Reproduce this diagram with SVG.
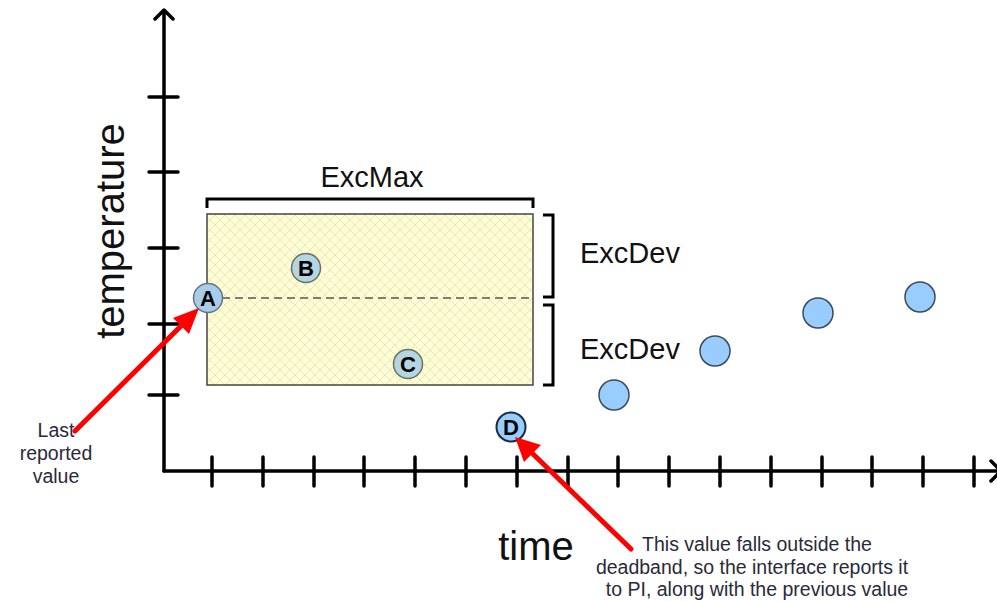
<svg xmlns="http://www.w3.org/2000/svg" width="997" height="601" viewBox="0 0 997 601">
<style>
.ax{stroke:#000;stroke-width:3.5;fill:none;stroke-linecap:round;stroke-linejoin:round}
.tk{stroke:#000;stroke-width:3.5;stroke-linecap:round}
.br{stroke:#000;stroke-width:3;fill:none;stroke-linejoin:miter}
.big{font-family:"Liberation Sans",Arial,sans-serif;fill:#111}
.note{font-family:"Liberation Sans",Arial,sans-serif;font-size:19.5px;fill:#2a2a3a;text-anchor:middle}
.lbl{font-family:"Liberation Sans",Arial,sans-serif;font-size:22px;font-weight:bold;fill:#000;text-anchor:middle}
.pt{fill:#99ccff;stroke:#3a4a5a;stroke-width:1.5}
.pin{fill:#b4d6e2;stroke:#6e7060;stroke-width:1.5}
.red{stroke:#ff0000;stroke-width:5;stroke-linecap:round}
</style>
<defs>
<pattern id="hatch" width="10" height="10" patternUnits="userSpaceOnUse">
<rect width="10" height="10" fill="#ffffd2"/>
<path d="M0,0 L10,10 M10,0 L0,10" stroke="#e6e6c8" stroke-width="1"/>
</pattern>
</defs>
<rect width="997" height="601" fill="#fff"/>

<g id="axes">
<path class="ax" d="M164,471 L164,10 M155,19 L164,10 L173,19"/>
<path class="ax" d="M164,471 L1001,471 M991,461 L1001,471 L991,481"/>
<g class="tk">
<line x1="149" y1="97" x2="178" y2="97"/>
<line x1="149" y1="172" x2="178" y2="172"/>
<line x1="149" y1="248" x2="178" y2="248"/>
<line x1="149" y1="324" x2="178" y2="324"/>
<line x1="149" y1="395" x2="178" y2="395"/>
<line x1="212" y1="457" x2="212" y2="486"/>
<line x1="263" y1="457" x2="263" y2="486"/>
<line x1="314" y1="457" x2="314" y2="486"/>
<line x1="364" y1="457" x2="364" y2="486"/>
<line x1="415" y1="457" x2="415" y2="486"/>
<line x1="466" y1="457" x2="466" y2="486"/>
<line x1="517" y1="457" x2="517" y2="486"/>
<line x1="568" y1="457" x2="568" y2="486"/>
<line x1="618" y1="457" x2="618" y2="486"/>
<line x1="669" y1="457" x2="669" y2="486"/>
<line x1="720" y1="457" x2="720" y2="486"/>
<line x1="771" y1="457" x2="771" y2="486"/>
<line x1="822" y1="457" x2="822" y2="486"/>
<line x1="872" y1="457" x2="872" y2="486"/>
<line x1="923" y1="457" x2="923" y2="486"/>
<line x1="974" y1="457" x2="974" y2="486"/>
</g>
<text class="big" font-size="40" transform="translate(124,231) rotate(-90)" text-anchor="middle">temperature</text>
<text class="big" font-size="40" x="536" y="560" text-anchor="middle">time</text>
</g>

<g id="deadband">
<rect x="207" y="214" width="326" height="171" fill="url(#hatch)" stroke="#444" stroke-width="1.5"/>
<line x1="222" y1="298" x2="533" y2="298" stroke="#555" stroke-width="1.5" stroke-dasharray="8,5"/>
</g>

<g id="excmax">
<path class="br" d="M207,208 L207,199 L533,199 L533,208"/>
<text class="big" font-size="29" x="372" y="187" text-anchor="middle">ExcMax</text>
</g>

<g id="excdev-top">
<path class="br" d="M543,215 L553,215 L553,297 L543,297"/>
<text class="big" font-size="29" x="580" y="263">ExcDev</text>
</g>
<g id="excdev-bottom">
<path class="br" d="M543,305 L553,305 L553,385 L543,385"/>
<text class="big" font-size="29" x="580" y="359">ExcDev</text>
</g>

<g id="point-A">
<circle cx="208" cy="298" r="14.5" fill="#a8cdea" stroke="#6a7480" stroke-width="1.5"/>
<text class="lbl" x="208" y="306">A</text>
</g>
<g id="point-B">
<circle class="pin" cx="306" cy="268" r="14.5"/>
<text class="lbl" x="306" y="276">B</text>
</g>
<g id="point-C">
<circle class="pin" cx="408" cy="364" r="14.5"/>
<text class="lbl" x="408" y="372">C</text>
</g>
<g id="point-D">
<circle cx="511" cy="427" r="14.5" fill="#99ccff" stroke="#1a2a40" stroke-width="2"/>
<text class="lbl" x="511" y="435">D</text>
</g>
<g id="point-5"><circle class="pt" cx="614" cy="395" r="15"/></g>
<g id="point-6"><circle class="pt" cx="715" cy="351" r="15"/></g>
<g id="point-7"><circle class="pt" cx="818" cy="313" r="15"/></g>
<g id="point-8"><circle class="pt" cx="920" cy="297" r="15"/></g>

<g id="connectors">
<line class="red" x1="75" y1="431" x2="183" y2="324"/>
<polygon points="199,308 173,318 189,334" fill="#ff0000"/>
<line class="red" x1="631" y1="549" x2="532" y2="453"/>
<polygon points="515,437 541,445 524,462" fill="#ff0000"/>
</g>

<g id="label-last">
<text class="note" x="56" y="437">Last</text>
<text class="note" x="56" y="460">reported</text>
<text class="note" x="56" y="483">value</text>
</g>
<g id="label-outside">
<text class="note" x="757" y="551">This value falls outside the</text>
<text class="note" x="752" y="574">deadband, so the interface reports it</text>
<text class="note" x="757" y="596">to PI, along with the previous value</text>
</g>
</svg>
